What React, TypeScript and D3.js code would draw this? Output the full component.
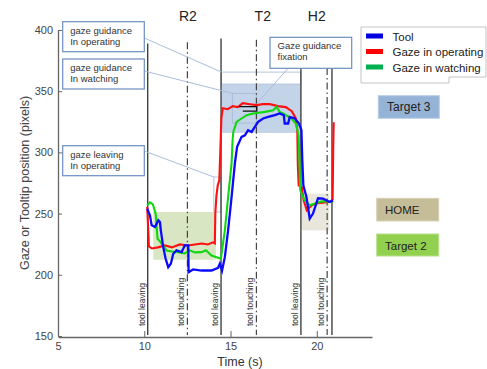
import * as d3 from 'd3'
import React, { useEffect, useRef } from 'react'

const W = 487
const H = 369
const font = 'Liberation Sans, Arial, Helvetica, sans-serif'

// traces: time (s) / position (pixels)
const toolT = [10.17, 10.33, 10.43, 10.62, 10.72, 10.81, 10.91, 10.96, 11.1, 11.24, 11.39, 11.54, 11.68, 11.87, 12.16, 12.35, 12.55, 12.57, 12.83, 13.32, 13.9, 14.28, 14.38, 14.51, 14.67, 14.86, 15.06, 15.25, 15.38, 15.64, 15.83, 16.02, 16.22, 16.41, 16.6, 16.89, 17.18, 17.57, 17.85, 18.09, 18.14, 18.34, 18.43, 18.72, 18.97, 19.11, 19.16, 19.22, 19.4, 19.59, 19.78, 20.07, 20.36, 20.75, 20.94]
const toolV = [254, 248.6, 240.4, 239, 241.8, 244.5, 243.1, 236.3, 222.6, 213.1, 206.2, 209, 217.2, 219.9, 218.5, 224, 224, 202.1, 204.4, 203.5, 203.5, 205.7, 209, 203.5, 214.4, 236.3, 263.5, 290.9, 304.5, 312.7, 314, 318.1, 316.7, 320.8, 324.9, 327.7, 329, 330.4, 331.8, 330.4, 323.6, 323.6, 329, 327.7, 323.6, 318.1, 293.6, 273.1, 263.5, 245.9, 250, 262.5, 262.2, 259.5, 260.8]

const operT = [10.17, 10.27, 10.44, 10.79, 11.2, 11.6, 12.06, 12.53, 12.93, 13.34, 13.69, 13.98, 14.09, 14.12, 14.18, 14.26, 14.35, 14.41, 14.47, 14.55, 14.84, 15.13, 15.42, 15.71, 16.12, 16.52, 16.87, 17.28, 17.74, 18.2, 18.55, 18.78, 18.87, 18.9, 18.95, 19.13, 19.24, 19.42, 19.71, 20.05, 20.46, 20.81, 20.92, 20.95, 20.98]
const operV = [255.4, 223.2, 221.5, 222.4, 224, 222.4, 224.8, 224, 224.8, 225.6, 224.8, 226.5, 225.6, 250.2, 264.1, 273.1, 277.2, 301.8, 328, 336.1, 335.3, 337.8, 337, 340.2, 339.4, 338.6, 339.4, 339.4, 337.8, 337, 333.7, 328, 318.1, 289.5, 273.1, 271.5, 260.8, 252.7, 256.8, 258.4, 259.2, 260, 261.7, 301.8, 324.7]

const watchT = [10.17, 10.33, 10.5, 10.66, 10.77, 10.91, 11.29, 11.6, 11.95, 12.35, 12.64, 12.93, 13.32, 13.57, 13.9, 14.28, 14.44, 14.67, 14.86, 15.06, 15.12, 15.16, 15.35, 15.64, 15.93, 16.31, 16.99, 17.47, 17.66, 17.85, 18.05, 18.53, 18.78, 18.95, 19.04, 19.3, 19.59, 19.94, 20.29, 20.63, 20.92]
const watchV = [256.7, 259.2, 257.6, 250, 229.5, 227.3, 219.9, 219.1, 218.5, 217.5, 220, 218.3, 218.5, 220, 215.8, 213.9, 213.1, 236.3, 263.5, 290.9, 310, 316.7, 324.9, 327.7, 330.4, 331.8, 333.1, 334.5, 337.2, 333.1, 331.8, 327.7, 323.6, 314, 269, 260.8, 256.8, 258.4, 260, 260, 259.2]

const seriesNames = ['Tool', 'Gaze in operating', 'Gaze in watching']
const seriesColors = ['#0a0aff', '#ff1010', '#10d810']
const legendColors = ['#0000e0', '#ff0000', '#00b050']

const xTicks = [5, 10, 15, 20]
const yTicks = [150, 200, 250, 300, 350, 400]

// events
const leaveT = [10.2, 14.45, 19.08, 20.88]
const leaveTop = [389, 393, 369, 369]
const leaveLabel = ['tool leaving', 'tool leaving', 'tool leaving', '']
const touchT = [12.5, 16.5, 20.6]
const touchTop = [390, 392, 369]
const phaseNames = ['R2', 'T2', 'H2']
const phaseT = [12.53, 16.87, 20.0]

// target regions [t0, t1, v0, v1]
const target3Region = [14.48, 19.07, 315.9, 355.8]
const operRegion = [14.48, 19.07, 355.8, 365.6]
const watchRegion = [15.11, 16.52, 323.9, 348.2]
const leaveRegion = [14.03, 14.44, 251.3, 279.9]
const target2Region = [10.52, 14.15, 212.3, 251.3]
const homeRegion = [19.11, 20.72, 236.3, 266.3]
const fixation = [15.48, 15.71, 16.52, 333.7, 337.4]

const x = d3.scaleLinear().domain([5, 23.2]).range([58, 372])
const y = d3.scaleLinear().domain([150, 400]).range([336, 30])

const mk = (ts: number[], vs: number[]) =>
  d3.line<number>().x((d, i) => x(ts[i])).y(d => y(d))(vs) || ''

const rectOf = (r: number[]) => ({
  x: x(r[0]), y: y(r[3]), width: x(r[1]) - x(r[0]), height: y(r[2]) - y(r[3])
})

const Note = ({ bx, by, w, h, lines }: { bx: number, by: number, w: number, h: number, lines: string[] }) => (
  <g>
    <rect x={bx} y={by} width={w} height={h} fill="#fff" stroke="#6d8ec0" strokeWidth={1.2} />
    {lines.map((l, i) => (
      <text key={i} x={bx + 7.5} y={by + 12 + i * 11} fontSize={9.5} fill="#333" fontFamily={font}>{l}</text>
    ))}
  </g>
)

export default function App() {
  const xRef = useRef<SVGGElement>(null)
  const yRef = useRef<SVGGElement>(null)

  useEffect(() => {
    const gx = d3.select(xRef.current!)
    gx.call(d3.axisBottom(x).tickValues(xTicks).tickSizeInner(-6).tickSizeOuter(0).tickPadding(5).tickFormat(d3.format('d')))
    const gy = d3.select(yRef.current!)
    gy.call(d3.axisLeft(y).tickValues(yTicks).tickSizeInner(-4).tickSizeOuter(0).tickPadding(5))
    for (const g of [gx, gy]) {
      g.select('.domain').attr('stroke', '#666').attr('stroke-width', 1.3)
      g.selectAll('.tick line').attr('stroke', '#666')
      g.selectAll('.tick text').attr('fill', '#444').attr('font-size', 11).attr('font-family', font)
    }
  }, [])

  const t3 = rectOf(target3Region)
  const op = rectOf(operRegion)
  const wr = rectOf(watchRegion)
  const lr = rectOf(leaveRegion)
  const t2 = rectOf(target2Region)
  const hm = rectOf(homeRegion)

  return (
    <svg width={W} height={H} style={{ position: 'absolute', left: 0, top: 0, background: '#fff' }}>
      {/* regions */}
      <rect {...t3} fill="#c3d3e8" />
      <rect {...t2} fill="#d9e6c4" />
      <rect {...hm} fill="#e9e6db" />
      <rect {...op} fill="none" stroke="#b4c6de" />
      <rect {...wr} fill="none" stroke="#aabfdc" />
      <rect {...lr} fill="none" stroke="#b4c6de" />

      {/* event lines */}
      {leaveT.map((t, i) => (
        <g key={'l' + i}>
          <line x1={x(t)} x2={x(t)} y1={y(leaveTop[i])} y2={335} stroke="#333" strokeWidth={1.3} />
          {leaveLabel[i] && (
            <text transform={`translate(${x(t) - 3},326) rotate(-90)`} fontSize={8.5} fill="#333" fontFamily={font}>{leaveLabel[i]}</text>
          )}
        </g>
      ))}
      {touchT.map((t, i) => (
        <g key={'t' + i}>
          <line x1={x(t)} x2={x(t)} y1={y(touchTop[i])} y2={335} stroke="#444" strokeWidth={1.2} strokeDasharray="7,3,1.5,3" />
          <text transform={`translate(${x(t) - 3.5},326) rotate(-90)`} fontSize={8.5} fill="#333" fontFamily={font}>tool touching</text>
        </g>
      ))}
      {phaseNames.map((p, i) => (
        <text key={p} x={x(phaseT[i])} y={21} textAnchor="middle" fontSize={14} fill="#222" fontFamily={font}>{p}</text>
      ))}

      {/* traces */}
      <path d={mk(operT, operV)} fill="none" stroke={seriesColors[1]} strokeWidth={2.1} />
      <path d={mk(watchT, watchV)} fill="none" stroke={seriesColors[2]} strokeWidth={2.1} />
      <path d={mk(toolT, toolV)} fill="none" stroke={seriesColors[0]} strokeWidth={2.3} />

      {/* fixation bracket */}
      <path d={`M${x(fixation[0])},${y(fixation[4])}H${x(fixation[2])}V${y(fixation[3])}H${x(fixation[1])}`} fill="none" stroke="#111" strokeWidth={1.4} />

      {/* axes */}
      <g ref={xRef} transform="translate(0,337)" />
      <g ref={yRef} transform="translate(58,0)" />
      <text x={240} y={366} textAnchor="middle" fontSize={12.5} fill="#333" fontFamily={font}>Time (s)</text>
      <text transform="translate(29,183) rotate(-90)" textAnchor="middle" fontSize={12.5} fill="#444" fontFamily={font}>Gaze or Tooltip position (pixels)</text>

      {/* leader lines */}
      <g stroke="#a9bedc" strokeWidth={1} fill="none">
        <line x1={144.3} y1={38} x2={op.x} y2={op.y} />
        <line x1={144.3} y1={71} x2={wr.x} y2={wr.y} />
        <line x1={144.3} y1={151} x2={lr.x} y2={lr.y} />
        <line x1={288} y1={68.3} x2={x(fixation[2])} y2={y(fixation[4]) - 3} />
      </g>

      {/* annotations */}
      <Note bx={62.7} by={21.7} w={81.6} h={30} lines={['gaze guidance', 'In operating']} />
      <Note bx={62.7} by={59} w={81.6} h={30} lines={['gaze guidance', 'In watching']} />
      <Note bx={62.7} by={145.7} w={81.6} h={30} lines={['gaze leaving', 'In operating']} />
      <Note bx={270} by={37.3} w={81.7} h={31} lines={['Gaze guidance', 'fixation']} />

      {/* legend */}
      <path d="M361,27H486V77H449V83H361Z" fill="#fff" stroke="#c4c4c4" />
      {seriesNames.map((s, i) => (
        <g key={s}>
          <rect x={366} y={33.5 + i * 15.5} width={17} height={5} fill={legendColors[i]} />
          <text x={392.5} y={40.5 + i * 15.5} fontSize={11.5} fill="#222" fontFamily={font}>{s}</text>
        </g>
      ))}

      {/* target keys */}
      <rect x={378.3} y={95.7} width={61} height={22.6} fill="#95b3d7" stroke="#b8cce4" />
      <text x={408.8} y={111} textAnchor="middle" fontSize={12} fill="#222" fontFamily={font}>Target 3</text>
      <rect x={376.7} y={198.3} width={62} height={22.7} fill="#c4bd97" stroke="#d8d3b8" />
      <text x={385} y={213.5} fontSize={11.5} fill="#222" fontFamily={font}>HOME</text>
      <rect x={376.7} y={234} width={62} height={22} fill="#92d050" stroke="#b5e08a" />
      <text x={385} y={249.5} fontSize={11.5} fill="#222" fontFamily={font}>Target 2</text>
    </svg>
  )
}
